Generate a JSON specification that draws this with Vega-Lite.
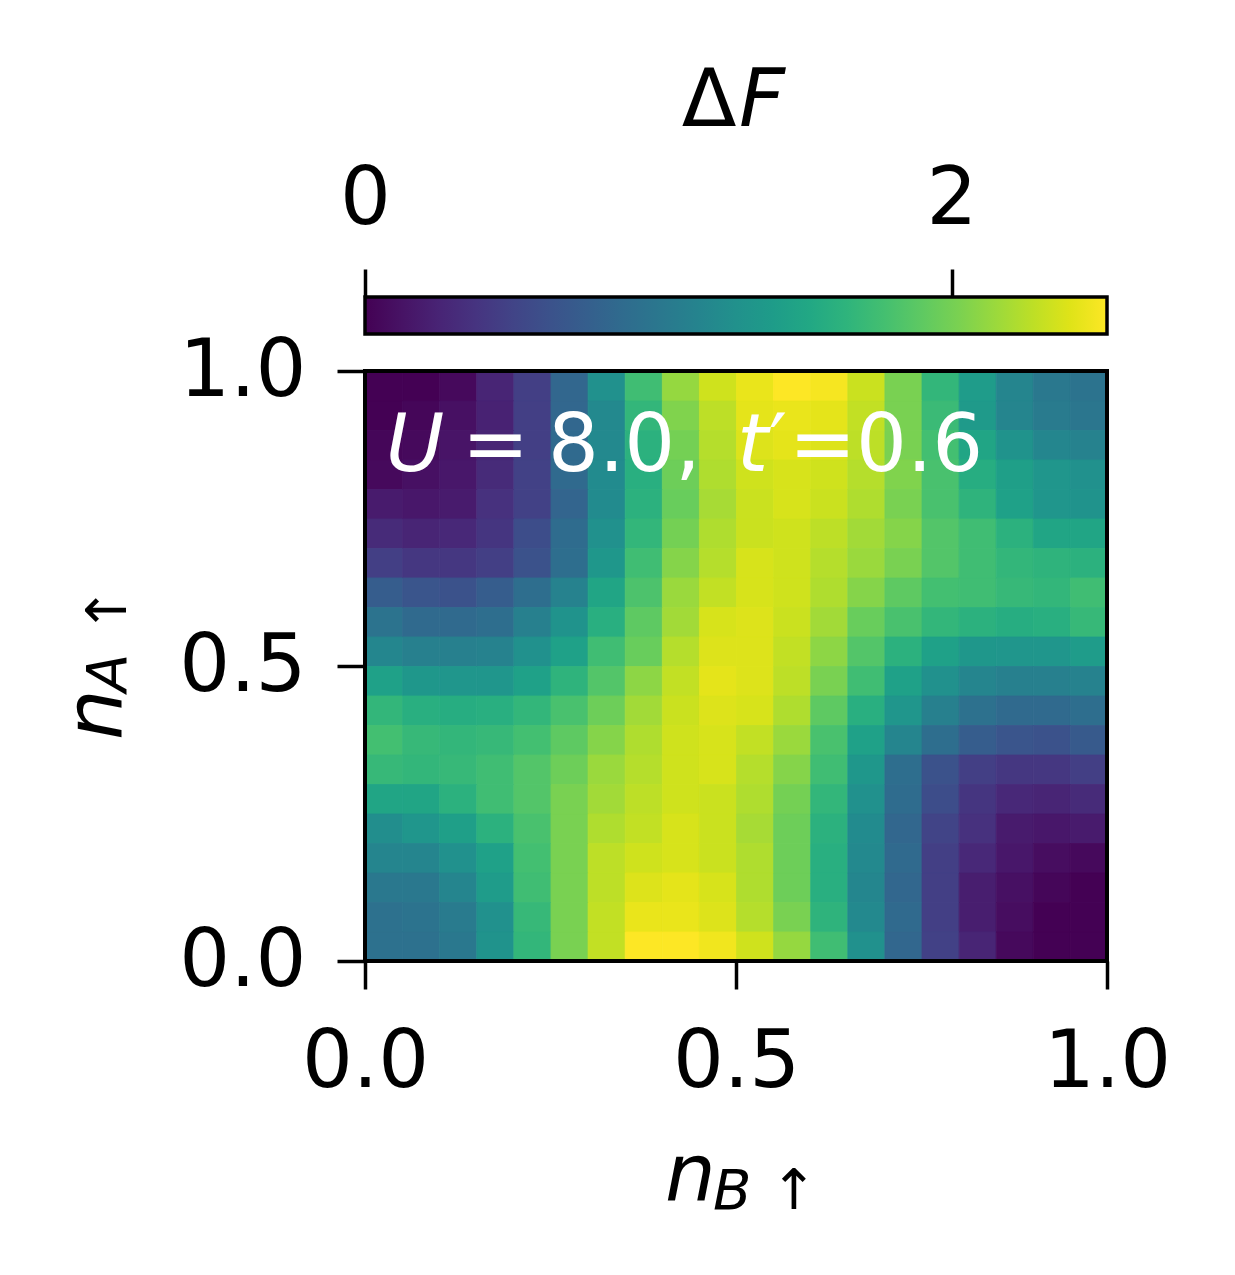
{
"$schema": "https://vega.github.io/schema/vega-lite/v6.json",
"background": "white",
"padding": {"left": 57, "top": 62, "right": 5, "bottom": 5},
"spacing": 37,
"bounds": "flush",
"config": {"view": {"stroke": null}, "font": "DejaVu Sans", "axis": {"labelFont": "DejaVu Sans", "labelColor": "black", "tickColor": "black", "grid": false}},
"vconcat": [
{
 "width": 742, "height": 37,
 "data": {"values": [{}]},
 "layer": [
  {"mark": {"type": "rect", "stroke": "black", "strokeWidth": 3.5,
    "fill": {"x1": 0, "y1": 0, "x2": 1, "y2": 0, "gradient": "linear", "stops": [
      {"offset": 0.0, "color": "#440154"}, {"offset": 0.05, "color": "#471365"}, {"offset": 0.1, "color": "#482475"}, {"offset": 0.15, "color": "#463480"},
      {"offset": 0.2, "color": "#414487"}, {"offset": 0.25, "color": "#3b528b"}, {"offset": 0.3, "color": "#355f8d"}, {"offset": 0.35, "color": "#2f6c8e"},
      {"offset": 0.4, "color": "#2a788e"}, {"offset": 0.45, "color": "#25848e"}, {"offset": 0.5, "color": "#21918c"}, {"offset": 0.55, "color": "#1e9c89"},
      {"offset": 0.6, "color": "#22a884"}, {"offset": 0.65, "color": "#2fb47c"}, {"offset": 0.7, "color": "#44bf70"}, {"offset": 0.75, "color": "#5ec962"},
      {"offset": 0.8, "color": "#7ad151"}, {"offset": 0.85, "color": "#9bd93c"}, {"offset": 0.9, "color": "#bddf26"}, {"offset": 0.95, "color": "#dfe318"},
      {"offset": 1.0, "color": "#fde725"}]}},
   "encoding": {
    "x": {"datum": 0, "type": "quantitative", "title": null, "scale": {"domain": [0, 2.53], "nice": false, "zero": false},
      "axis": {"orient": "top", "values": [0, 2], "format": "d", "title": null, "domain": false, "tickSize": 28, "tickWidth": 3.5, "labelFontSize": 80, "labelPadding": 29, "labelFlush": false, "labelOverlap": false}},
    "x2": {"datum": 2.53},
    "y": {"datum": 0, "type": "quantitative", "title": null, "scale": {"domain": [0, 1], "nice": false, "zero": false}, "axis": null},
    "y2": {"datum": 1}
   }},
  {"mark": {"type": "text", "text": "Δ", "fontSize": 80, "align": "left", "baseline": "alphabetic", "color": "black"},
   "encoding": {"x": {"datum": 1.08, "type": "quantitative", "title": null}, "y": {"datum": 5.62, "type": "quantitative", "title": null}}},
  {"mark": {"type": "text", "text": "F", "fontSize": 80, "fontStyle": "italic", "align": "left", "baseline": "alphabetic", "color": "black"},
   "encoding": {"x": {"datum": 1.275, "type": "quantitative", "title": null}, "y": {"datum": 5.62, "type": "quantitative", "title": null}}}
 ]
},
{
 "width": 742, "height": 590,
 "layer": [
  {"data": {"values": [
{"nB":0.025,"nA":0.975,"dF":0.00},{"nB":0.075,"nA":0.975,"dF":0.00},{"nB":0.125,"nA":0.975,"dF":0.05},{"nB":0.175,"nA":0.975,"dF":0.25},{"nB":0.225,"nA":0.975,"dF":0.46},{"nB":0.275,"nA":0.975,"dF":0.83},{"nB":0.325,"nA":0.975,"dF":1.27},{"nB":0.375,"nA":0.975,"dF":1.75},{"nB":0.425,"nA":0.975,"dF":2.13},{"nB":0.475,"nA":0.975,"dF":2.35},{"nB":0.525,"nA":0.975,"dF":2.45},{"nB":0.575,"nA":0.975,"dF":2.53},{"nB":0.625,"nA":0.975,"dF":2.50},{"nB":0.675,"nA":0.975,"dF":2.33},{"nB":0.725,"nA":0.975,"dF":2.02},{"nB":0.775,"nA":0.975,"dF":1.67},{"nB":0.825,"nA":0.975,"dF":1.39},{"nB":0.875,"nA":0.975,"dF":1.14},{"nB":0.925,"nA":0.975,"dF":1.01},{"nB":0.975,"nA":0.975,"dF":0.96},
{"nB":0.025,"nA":0.925,"dF":0.00},{"nB":0.075,"nA":0.925,"dF":0.03},{"nB":0.125,"nA":0.925,"dF":0.10},{"nB":0.175,"nA":0.925,"dF":0.23},{"nB":0.225,"nA":0.925,"dF":0.46},{"nB":0.275,"nA":0.925,"dF":0.83},{"nB":0.325,"nA":0.925,"dF":1.19},{"nB":0.375,"nA":0.925,"dF":1.67},{"nB":0.425,"nA":0.925,"dF":2.05},{"nB":0.475,"nA":0.925,"dF":2.28},{"nB":0.525,"nA":0.925,"dF":2.43},{"nB":0.575,"nA":0.925,"dF":2.45},{"nB":0.625,"nA":0.925,"dF":2.43},{"nB":0.675,"nA":0.925,"dF":2.30},{"nB":0.725,"nA":0.925,"dF":2.02},{"nB":0.775,"nA":0.925,"dF":1.72},{"nB":0.825,"nA":0.925,"dF":1.37},{"nB":0.875,"nA":0.925,"dF":1.14},{"nB":0.925,"nA":0.925,"dF":1.04},{"nB":0.975,"nA":0.925,"dF":0.99},
{"nB":0.025,"nA":0.875,"dF":0.03},{"nB":0.075,"nA":0.875,"dF":0.05},{"nB":0.125,"nA":0.875,"dF":0.13},{"nB":0.175,"nA":0.875,"dF":0.25},{"nB":0.225,"nA":0.875,"dF":0.46},{"nB":0.275,"nA":0.875,"dF":0.86},{"nB":0.325,"nA":0.875,"dF":1.19},{"nB":0.375,"nA":0.875,"dF":1.62},{"nB":0.425,"nA":0.875,"dF":2.00},{"nB":0.475,"nA":0.875,"dF":2.25},{"nB":0.525,"nA":0.875,"dF":2.40},{"nB":0.575,"nA":0.875,"dF":2.43},{"nB":0.625,"nA":0.875,"dF":2.40},{"nB":0.675,"nA":0.875,"dF":2.28},{"nB":0.725,"nA":0.875,"dF":2.02},{"nB":0.775,"nA":0.875,"dF":1.77},{"nB":0.825,"nA":0.875,"dF":1.49},{"nB":0.875,"nA":0.875,"dF":1.29},{"nB":0.925,"nA":0.875,"dF":1.16},{"nB":0.975,"nA":0.875,"dF":1.11},
{"nB":0.025,"nA":0.825,"dF":0.05},{"nB":0.075,"nA":0.825,"dF":0.10},{"nB":0.125,"nA":0.825,"dF":0.15},{"nB":0.175,"nA":0.825,"dF":0.30},{"nB":0.225,"nA":0.825,"dF":0.48},{"nB":0.275,"nA":0.825,"dF":0.86},{"nB":0.325,"nA":0.825,"dF":1.21},{"nB":0.375,"nA":0.825,"dF":1.59},{"nB":0.425,"nA":0.825,"dF":1.97},{"nB":0.475,"nA":0.825,"dF":2.23},{"nB":0.525,"nA":0.825,"dF":2.35},{"nB":0.575,"nA":0.825,"dF":2.38},{"nB":0.625,"nA":0.825,"dF":2.35},{"nB":0.675,"nA":0.825,"dF":2.25},{"nB":0.725,"nA":0.825,"dF":2.05},{"nB":0.775,"nA":0.825,"dF":1.80},{"nB":0.825,"nA":0.825,"dF":1.57},{"nB":0.875,"nA":0.825,"dF":1.42},{"nB":0.925,"nA":0.825,"dF":1.32},{"nB":0.975,"nA":0.825,"dF":1.27},
{"nB":0.025,"nA":0.775,"dF":0.18},{"nB":0.075,"nA":0.775,"dF":0.15},{"nB":0.125,"nA":0.775,"dF":0.18},{"nB":0.175,"nA":0.775,"dF":0.35},{"nB":0.225,"nA":0.775,"dF":0.48},{"nB":0.275,"nA":0.775,"dF":0.81},{"nB":0.325,"nA":0.775,"dF":1.21},{"nB":0.375,"nA":0.775,"dF":1.62},{"nB":0.425,"nA":0.775,"dF":1.95},{"nB":0.475,"nA":0.775,"dF":2.20},{"nB":0.525,"nA":0.775,"dF":2.33},{"nB":0.575,"nA":0.775,"dF":2.38},{"nB":0.625,"nA":0.775,"dF":2.33},{"nB":0.675,"nA":0.775,"dF":2.23},{"nB":0.725,"nA":0.775,"dF":2.02},{"nB":0.775,"nA":0.775,"dF":1.80},{"nB":0.825,"nA":0.775,"dF":1.64},{"nB":0.875,"nA":0.775,"dF":1.44},{"nB":0.925,"nA":0.775,"dF":1.32},{"nB":0.975,"nA":0.775,"dF":1.29},
{"nB":0.025,"nA":0.725,"dF":0.30},{"nB":0.075,"nA":0.725,"dF":0.25},{"nB":0.125,"nA":0.725,"dF":0.28},{"nB":0.175,"nA":0.725,"dF":0.38},{"nB":0.225,"nA":0.725,"dF":0.58},{"nB":0.275,"nA":0.725,"dF":0.89},{"nB":0.325,"nA":0.725,"dF":1.27},{"nB":0.375,"nA":0.725,"dF":1.67},{"nB":0.425,"nA":0.725,"dF":2.00},{"nB":0.475,"nA":0.725,"dF":2.23},{"nB":0.525,"nA":0.725,"dF":2.33},{"nB":0.575,"nA":0.725,"dF":2.35},{"nB":0.625,"nA":0.725,"dF":2.28},{"nB":0.675,"nA":0.725,"dF":2.18},{"nB":0.725,"nA":0.725,"dF":2.07},{"nB":0.775,"nA":0.725,"dF":1.85},{"nB":0.825,"nA":0.725,"dF":1.75},{"nB":0.875,"nA":0.725,"dF":1.62},{"nB":0.925,"nA":0.725,"dF":1.49},{"nB":0.975,"nA":0.725,"dF":1.49},
{"nB":0.025,"nA":0.675,"dF":0.46},{"nB":0.075,"nA":0.675,"dF":0.40},{"nB":0.125,"nA":0.675,"dF":0.40},{"nB":0.175,"nA":0.675,"dF":0.46},{"nB":0.225,"nA":0.675,"dF":0.63},{"nB":0.275,"nA":0.675,"dF":0.91},{"nB":0.325,"nA":0.675,"dF":1.34},{"nB":0.375,"nA":0.675,"dF":1.75},{"nB":0.425,"nA":0.675,"dF":2.07},{"nB":0.475,"nA":0.675,"dF":2.25},{"nB":0.525,"nA":0.675,"dF":2.38},{"nB":0.575,"nA":0.675,"dF":2.35},{"nB":0.625,"nA":0.675,"dF":2.25},{"nB":0.675,"nA":0.675,"dF":2.15},{"nB":0.725,"nA":0.675,"dF":2.02},{"nB":0.775,"nA":0.675,"dF":1.85},{"nB":0.825,"nA":0.675,"dF":1.75},{"nB":0.875,"nA":0.675,"dF":1.67},{"nB":0.925,"nA":0.675,"dF":1.64},{"nB":0.975,"nA":0.675,"dF":1.62},
{"nB":0.025,"nA":0.625,"dF":0.73},{"nB":0.075,"nA":0.625,"dF":0.66},{"nB":0.125,"nA":0.625,"dF":0.63},{"nB":0.175,"nA":0.625,"dF":0.73},{"nB":0.225,"nA":0.625,"dF":0.91},{"nB":0.275,"nA":0.625,"dF":1.11},{"nB":0.325,"nA":0.625,"dF":1.49},{"nB":0.375,"nA":0.625,"dF":1.82},{"nB":0.425,"nA":0.625,"dF":2.15},{"nB":0.475,"nA":0.625,"dF":2.30},{"nB":0.525,"nA":0.625,"dF":2.38},{"nB":0.575,"nA":0.625,"dF":2.35},{"nB":0.625,"nA":0.625,"dF":2.23},{"nB":0.675,"nA":0.625,"dF":2.07},{"nB":0.725,"nA":0.625,"dF":1.90},{"nB":0.775,"nA":0.625,"dF":1.77},{"nB":0.825,"nA":0.625,"dF":1.75},{"nB":0.875,"nA":0.625,"dF":1.70},{"nB":0.925,"nA":0.625,"dF":1.67},{"nB":0.975,"nA":0.625,"dF":1.75},
{"nB":0.025,"nA":0.575,"dF":0.96},{"nB":0.075,"nA":0.575,"dF":0.86},{"nB":0.125,"nA":0.575,"dF":0.86},{"nB":0.175,"nA":0.575,"dF":0.91},{"nB":0.225,"nA":0.575,"dF":1.09},{"nB":0.275,"nA":0.575,"dF":1.29},{"nB":0.325,"nA":0.575,"dF":1.59},{"nB":0.375,"nA":0.575,"dF":1.90},{"nB":0.425,"nA":0.575,"dF":2.18},{"nB":0.475,"nA":0.575,"dF":2.38},{"nB":0.525,"nA":0.575,"dF":2.40},{"nB":0.575,"nA":0.575,"dF":2.33},{"nB":0.625,"nA":0.575,"dF":2.18},{"nB":0.675,"nA":0.575,"dF":1.95},{"nB":0.725,"nA":0.575,"dF":1.80},{"nB":0.775,"nA":0.575,"dF":1.67},{"nB":0.825,"nA":0.575,"dF":1.62},{"nB":0.875,"nA":0.575,"dF":1.57},{"nB":0.925,"nA":0.575,"dF":1.59},{"nB":0.975,"nA":0.575,"dF":1.70},
{"nB":0.025,"nA":0.525,"dF":1.16},{"nB":0.075,"nA":0.525,"dF":1.09},{"nB":0.125,"nA":0.525,"dF":1.09},{"nB":0.175,"nA":0.525,"dF":1.11},{"nB":0.225,"nA":0.525,"dF":1.27},{"nB":0.275,"nA":0.525,"dF":1.44},{"nB":0.325,"nA":0.525,"dF":1.75},{"nB":0.375,"nA":0.525,"dF":1.95},{"nB":0.425,"nA":0.525,"dF":2.25},{"nB":0.475,"nA":0.525,"dF":2.40},{"nB":0.525,"nA":0.525,"dF":2.40},{"nB":0.575,"nA":0.525,"dF":2.30},{"nB":0.625,"nA":0.525,"dF":2.10},{"nB":0.675,"nA":0.525,"dF":1.85},{"nB":0.725,"nA":0.525,"dF":1.62},{"nB":0.775,"nA":0.525,"dF":1.44},{"nB":0.825,"nA":0.525,"dF":1.34},{"nB":0.875,"nA":0.525,"dF":1.32},{"nB":0.925,"nA":0.525,"dF":1.32},{"nB":0.975,"nA":0.525,"dF":1.39},
{"nB":0.025,"nA":0.475,"dF":1.44},{"nB":0.075,"nA":0.475,"dF":1.34},{"nB":0.125,"nA":0.475,"dF":1.32},{"nB":0.175,"nA":0.475,"dF":1.32},{"nB":0.225,"nA":0.475,"dF":1.44},{"nB":0.275,"nA":0.475,"dF":1.64},{"nB":0.325,"nA":0.475,"dF":1.85},{"nB":0.375,"nA":0.475,"dF":2.10},{"nB":0.425,"nA":0.475,"dF":2.30},{"nB":0.475,"nA":0.475,"dF":2.43},{"nB":0.525,"nA":0.475,"dF":2.40},{"nB":0.575,"nA":0.475,"dF":2.28},{"nB":0.625,"nA":0.475,"dF":2.02},{"nB":0.675,"nA":0.475,"dF":1.75},{"nB":0.725,"nA":0.475,"dF":1.44},{"nB":0.775,"nA":0.475,"dF":1.27},{"nB":0.825,"nA":0.475,"dF":1.14},{"nB":0.875,"nA":0.475,"dF":1.09},{"nB":0.925,"nA":0.475,"dF":1.09},{"nB":0.975,"nA":0.475,"dF":1.11},
{"nB":0.025,"nA":0.425,"dF":1.67},{"nB":0.075,"nA":0.425,"dF":1.59},{"nB":0.125,"nA":0.425,"dF":1.57},{"nB":0.175,"nA":0.425,"dF":1.59},{"nB":0.225,"nA":0.425,"dF":1.67},{"nB":0.275,"nA":0.425,"dF":1.80},{"nB":0.325,"nA":0.425,"dF":1.97},{"nB":0.375,"nA":0.425,"dF":2.18},{"nB":0.425,"nA":0.425,"dF":2.33},{"nB":0.475,"nA":0.425,"dF":2.40},{"nB":0.525,"nA":0.425,"dF":2.38},{"nB":0.575,"nA":0.425,"dF":2.23},{"nB":0.625,"nA":0.425,"dF":1.90},{"nB":0.675,"nA":0.425,"dF":1.59},{"nB":0.725,"nA":0.425,"dF":1.32},{"nB":0.775,"nA":0.425,"dF":1.09},{"nB":0.825,"nA":0.425,"dF":0.94},{"nB":0.875,"nA":0.425,"dF":0.86},{"nB":0.925,"nA":0.425,"dF":0.86},{"nB":0.975,"nA":0.425,"dF":0.91},
{"nB":0.025,"nA":0.375,"dF":1.77},{"nB":0.075,"nA":0.375,"dF":1.70},{"nB":0.125,"nA":0.375,"dF":1.67},{"nB":0.175,"nA":0.375,"dF":1.70},{"nB":0.225,"nA":0.375,"dF":1.77},{"nB":0.275,"nA":0.375,"dF":1.90},{"nB":0.325,"nA":0.375,"dF":2.07},{"nB":0.375,"nA":0.375,"dF":2.23},{"nB":0.425,"nA":0.375,"dF":2.35},{"nB":0.475,"nA":0.375,"dF":2.38},{"nB":0.525,"nA":0.375,"dF":2.30},{"nB":0.575,"nA":0.375,"dF":2.15},{"nB":0.625,"nA":0.375,"dF":1.80},{"nB":0.675,"nA":0.375,"dF":1.44},{"nB":0.725,"nA":0.375,"dF":1.14},{"nB":0.775,"nA":0.375,"dF":0.91},{"nB":0.825,"nA":0.375,"dF":0.73},{"nB":0.875,"nA":0.375,"dF":0.66},{"nB":0.925,"nA":0.375,"dF":0.63},{"nB":0.975,"nA":0.375,"dF":0.71},
{"nB":0.025,"nA":0.325,"dF":1.70},{"nB":0.075,"nA":0.325,"dF":1.67},{"nB":0.125,"nA":0.325,"dF":1.70},{"nB":0.175,"nA":0.325,"dF":1.75},{"nB":0.225,"nA":0.325,"dF":1.85},{"nB":0.275,"nA":0.325,"dF":1.97},{"nB":0.325,"nA":0.325,"dF":2.15},{"nB":0.375,"nA":0.325,"dF":2.25},{"nB":0.425,"nA":0.325,"dF":2.35},{"nB":0.475,"nA":0.325,"dF":2.38},{"nB":0.525,"nA":0.325,"dF":2.25},{"nB":0.575,"nA":0.325,"dF":2.07},{"nB":0.625,"nA":0.325,"dF":1.75},{"nB":0.675,"nA":0.325,"dF":1.34},{"nB":0.725,"nA":0.325,"dF":0.91},{"nB":0.775,"nA":0.325,"dF":0.63},{"nB":0.825,"nA":0.325,"dF":0.46},{"nB":0.875,"nA":0.325,"dF":0.40},{"nB":0.925,"nA":0.325,"dF":0.40},{"nB":0.975,"nA":0.325,"dF":0.46},
{"nB":0.025,"nA":0.275,"dF":1.49},{"nB":0.075,"nA":0.275,"dF":1.49},{"nB":0.125,"nA":0.275,"dF":1.62},{"nB":0.175,"nA":0.275,"dF":1.75},{"nB":0.225,"nA":0.275,"dF":1.85},{"nB":0.275,"nA":0.275,"dF":2.02},{"nB":0.325,"nA":0.275,"dF":2.18},{"nB":0.375,"nA":0.275,"dF":2.28},{"nB":0.425,"nA":0.275,"dF":2.35},{"nB":0.475,"nA":0.275,"dF":2.33},{"nB":0.525,"nA":0.275,"dF":2.23},{"nB":0.575,"nA":0.275,"dF":2.00},{"nB":0.625,"nA":0.275,"dF":1.67},{"nB":0.675,"nA":0.275,"dF":1.27},{"nB":0.725,"nA":0.275,"dF":0.89},{"nB":0.775,"nA":0.275,"dF":0.58},{"nB":0.825,"nA":0.275,"dF":0.38},{"nB":0.875,"nA":0.275,"dF":0.28},{"nB":0.925,"nA":0.275,"dF":0.25},{"nB":0.975,"nA":0.275,"dF":0.30},
{"nB":0.025,"nA":0.225,"dF":1.24},{"nB":0.075,"nA":0.225,"dF":1.32},{"nB":0.125,"nA":0.225,"dF":1.42},{"nB":0.175,"nA":0.225,"dF":1.62},{"nB":0.225,"nA":0.225,"dF":1.80},{"nB":0.275,"nA":0.225,"dF":2.02},{"nB":0.325,"nA":0.225,"dF":2.23},{"nB":0.375,"nA":0.225,"dF":2.30},{"nB":0.425,"nA":0.225,"dF":2.38},{"nB":0.475,"nA":0.225,"dF":2.33},{"nB":0.525,"nA":0.225,"dF":2.20},{"nB":0.575,"nA":0.225,"dF":1.97},{"nB":0.625,"nA":0.225,"dF":1.62},{"nB":0.675,"nA":0.225,"dF":1.21},{"nB":0.725,"nA":0.225,"dF":0.83},{"nB":0.775,"nA":0.225,"dF":0.51},{"nB":0.825,"nA":0.225,"dF":0.35},{"nB":0.875,"nA":0.225,"dF":0.18},{"nB":0.925,"nA":0.225,"dF":0.15},{"nB":0.975,"nA":0.225,"dF":0.18},
{"nB":0.025,"nA":0.175,"dF":1.14},{"nB":0.075,"nA":0.175,"dF":1.14},{"nB":0.125,"nA":0.175,"dF":1.27},{"nB":0.175,"nA":0.175,"dF":1.44},{"nB":0.225,"nA":0.175,"dF":1.77},{"nB":0.275,"nA":0.175,"dF":2.02},{"nB":0.325,"nA":0.175,"dF":2.28},{"nB":0.375,"nA":0.175,"dF":2.35},{"nB":0.425,"nA":0.175,"dF":2.38},{"nB":0.475,"nA":0.175,"dF":2.33},{"nB":0.525,"nA":0.175,"dF":2.23},{"nB":0.575,"nA":0.175,"dF":1.97},{"nB":0.625,"nA":0.175,"dF":1.59},{"nB":0.675,"nA":0.175,"dF":1.19},{"nB":0.725,"nA":0.175,"dF":0.86},{"nB":0.775,"nA":0.175,"dF":0.46},{"nB":0.825,"nA":0.175,"dF":0.28},{"nB":0.875,"nA":0.175,"dF":0.15},{"nB":0.925,"nA":0.175,"dF":0.08},{"nB":0.975,"nA":0.175,"dF":0.05},
{"nB":0.025,"nA":0.125,"dF":1.01},{"nB":0.075,"nA":0.125,"dF":1.01},{"nB":0.125,"nA":0.125,"dF":1.14},{"nB":0.175,"nA":0.125,"dF":1.39},{"nB":0.225,"nA":0.125,"dF":1.75},{"nB":0.275,"nA":0.125,"dF":2.02},{"nB":0.325,"nA":0.125,"dF":2.28},{"nB":0.375,"nA":0.125,"dF":2.40},{"nB":0.425,"nA":0.125,"dF":2.43},{"nB":0.475,"nA":0.125,"dF":2.38},{"nB":0.525,"nA":0.125,"dF":2.23},{"nB":0.575,"nA":0.125,"dF":1.97},{"nB":0.625,"nA":0.125,"dF":1.59},{"nB":0.675,"nA":0.125,"dF":1.16},{"nB":0.725,"nA":0.125,"dF":0.83},{"nB":0.775,"nA":0.125,"dF":0.46},{"nB":0.825,"nA":0.125,"dF":0.20},{"nB":0.875,"nA":0.125,"dF":0.10},{"nB":0.925,"nA":0.125,"dF":0.03},{"nB":0.975,"nA":0.125,"dF":0.00},
{"nB":0.025,"nA":0.075,"dF":0.94},{"nB":0.075,"nA":0.075,"dF":0.96},{"nB":0.125,"nA":0.075,"dF":1.04},{"nB":0.175,"nA":0.075,"dF":1.27},{"nB":0.225,"nA":0.075,"dF":1.70},{"nB":0.275,"nA":0.075,"dF":2.02},{"nB":0.325,"nA":0.075,"dF":2.30},{"nB":0.375,"nA":0.075,"dF":2.45},{"nB":0.425,"nA":0.075,"dF":2.45},{"nB":0.475,"nA":0.075,"dF":2.40},{"nB":0.525,"nA":0.075,"dF":2.25},{"nB":0.575,"nA":0.075,"dF":2.02},{"nB":0.625,"nA":0.075,"dF":1.64},{"nB":0.675,"nA":0.075,"dF":1.19},{"nB":0.725,"nA":0.075,"dF":0.86},{"nB":0.775,"nA":0.075,"dF":0.46},{"nB":0.825,"nA":0.075,"dF":0.20},{"nB":0.875,"nA":0.075,"dF":0.08},{"nB":0.925,"nA":0.075,"dF":0.00},{"nB":0.975,"nA":0.075,"dF":0.00},
{"nB":0.025,"nA":0.025,"dF":0.94},{"nB":0.075,"nA":0.025,"dF":0.94},{"nB":0.125,"nA":0.025,"dF":1.01},{"nB":0.175,"nA":0.025,"dF":1.29},{"nB":0.225,"nA":0.025,"dF":1.67},{"nB":0.275,"nA":0.025,"dF":2.02},{"nB":0.325,"nA":0.025,"dF":2.30},{"nB":0.375,"nA":0.025,"dF":2.53},{"nB":0.425,"nA":0.025,"dF":2.53},{"nB":0.475,"nA":0.025,"dF":2.48},{"nB":0.525,"nA":0.025,"dF":2.35},{"nB":0.575,"nA":0.025,"dF":2.13},{"nB":0.625,"nA":0.025,"dF":1.75},{"nB":0.675,"nA":0.025,"dF":1.27},{"nB":0.725,"nA":0.025,"dF":0.83},{"nB":0.775,"nA":0.025,"dF":0.48},{"nB":0.825,"nA":0.025,"dF":0.25},{"nB":0.875,"nA":0.025,"dF":0.05},{"nB":0.925,"nA":0.025,"dF":0.00},{"nB":0.975,"nA":0.025,"dF":0.00}
   ]},
   "mark": {"type": "rect", "binSpacing": 0, "strokeWidth": 0.8},
   "encoding": {
    "x": {"field": "nB", "type": "quantitative", "bin": {"step": 0.05, "extent": [0, 1]}, "title": null,
      "scale": {"domain": [0, 1], "nice": false, "zero": false},
      "axis": {"orient": "bottom", "values": [0, 0.5, 1], "format": ".1f", "title": null, "domain": false, "tickSize": 28, "tickWidth": 3.5, "labelFontSize": 80, "labelPadding": 34, "labelFlush": false, "labelOverlap": false}},
    "y": {"field": "nA", "type": "quantitative", "bin": {"step": 0.05, "extent": [0, 1]}, "title": null,
      "scale": {"domain": [0, 1], "nice": false, "zero": false},
      "axis": {"orient": "left", "values": [0, 0.5, 1], "format": ".1f", "title": null, "domain": false, "tickSize": 28, "tickWidth": 3.5, "labelFontSize": 80, "labelPadding": 31, "labelFlush": false, "labelOverlap": false}},
    "color": {"field": "dF", "type": "quantitative", "scale": {"scheme": "viridis", "domain": [0, 2.53]}, "legend": null},
    "stroke": {"field": "dF", "type": "quantitative", "scale": {"scheme": "viridis", "domain": [0, 2.53]}, "legend": null}
   }},
  {"data": {"values": [{}]},
   "mark": {"type": "rect", "fill": null, "fillOpacity": 0, "stroke": "black", "strokeWidth": 4},
   "encoding": {"x": {"datum": 0, "type": "quantitative", "title": null}, "x2": {"datum": 1}, "y": {"datum": 0, "type": "quantitative", "title": null}, "y2": {"datum": 1}}},
  {"data": {"values": [{}]},
   "mark": {"type": "text", "text": "U", "fontSize": 80, "fontStyle": "italic", "align": "left", "baseline": "alphabetic", "color": "white"},
   "encoding": {"x": {"datum": 0.028, "type": "quantitative", "title": null}, "y": {"datum": 0.8305, "type": "quantitative", "title": null}}},
  {"data": {"values": [{}]},
   "mark": {"type": "text", "text": "=", "fontSize": 80, "align": "left", "baseline": "alphabetic", "color": "white"},
   "encoding": {"x": {"datum": 0.1307, "type": "quantitative", "title": null}, "y": {"datum": 0.8305, "type": "quantitative", "title": null}}},
  {"data": {"values": [{}]},
   "mark": {"type": "text", "text": "8.0,", "fontSize": 80, "align": "left", "baseline": "alphabetic", "color": "white"},
   "encoding": {"x": {"datum": 0.2466, "type": "quantitative", "title": null}, "y": {"datum": 0.8305, "type": "quantitative", "title": null}}},
  {"data": {"values": [{}]},
   "mark": {"type": "text", "text": "t", "fontSize": 80, "fontStyle": "italic", "align": "left", "baseline": "alphabetic", "color": "white"},
   "encoding": {"x": {"datum": 0.5013, "type": "quantitative", "title": null}, "y": {"datum": 0.8305, "type": "quantitative", "title": null}}},
  {"data": {"values": [{}]},
   "mark": {"type": "text", "text": "′", "fontSize": 80, "align": "left", "baseline": "alphabetic", "color": "white"},
   "encoding": {"x": {"datum": 0.5445, "type": "quantitative", "title": null}, "y": {"datum": 0.8305, "type": "quantitative", "title": null}}},
  {"data": {"values": [{}]},
   "mark": {"type": "text", "text": "=0.6", "fontSize": 80, "align": "left", "baseline": "alphabetic", "color": "white"},
   "encoding": {"x": {"datum": 0.5714, "type": "quantitative", "title": null}, "y": {"datum": 0.8305, "type": "quantitative", "title": null}}},
  {"data": {"values": [{}]},
   "mark": {"type": "text", "text": "n", "fontSize": 80, "fontStyle": "italic", "align": "left", "baseline": "alphabetic", "color": "black"},
   "encoding": {"x": {"datum": 0.4043, "type": "quantitative", "title": null}, "y": {"datum": -0.4068, "type": "quantitative", "title": null}}},
  {"data": {"values": [{}]},
   "mark": {"type": "text", "text": "B", "fontSize": 56, "fontStyle": "italic", "align": "left", "baseline": "alphabetic", "color": "black"},
   "encoding": {"x": {"datum": 0.469, "type": "quantitative", "title": null}, "y": {"datum": -0.4203, "type": "quantitative", "title": null}}},
  {"data": {"values": [{}]},
   "mark": {"type": "text", "text": "↑", "fontSize": 56, "align": "center", "baseline": "alphabetic", "color": "black"},
   "encoding": {"x": {"datum": 0.578, "type": "quantitative", "title": null}, "y": {"datum": -0.4203, "type": "quantitative", "title": null}}},
  {"data": {"values": [{}]},
   "mark": {"type": "text", "text": "n", "fontSize": 80, "fontStyle": "italic", "align": "left", "baseline": "alphabetic", "angle": 270, "color": "black"},
   "encoding": {"x": {"datum": -0.3275, "type": "quantitative", "title": null}, "y": {"datum": 0.3746, "type": "quantitative", "title": null}}},
  {"data": {"values": [{}]},
   "mark": {"type": "text", "text": "A", "fontSize": 56, "fontStyle": "italic", "align": "left", "baseline": "alphabetic", "angle": 270, "color": "black"},
   "encoding": {"x": {"datum": -0.3221, "type": "quantitative", "title": null}, "y": {"datum": 0.4559, "type": "quantitative", "title": null}}},
  {"data": {"values": [{}]},
   "mark": {"type": "text", "text": "↑", "fontSize": 56, "align": "center", "baseline": "alphabetic", "angle": 270, "color": "black"},
   "encoding": {"x": {"datum": -0.3221, "type": "quantitative", "title": null}, "y": {"datum": 0.5949, "type": "quantitative", "title": null}}}
 ]
}
]
}
